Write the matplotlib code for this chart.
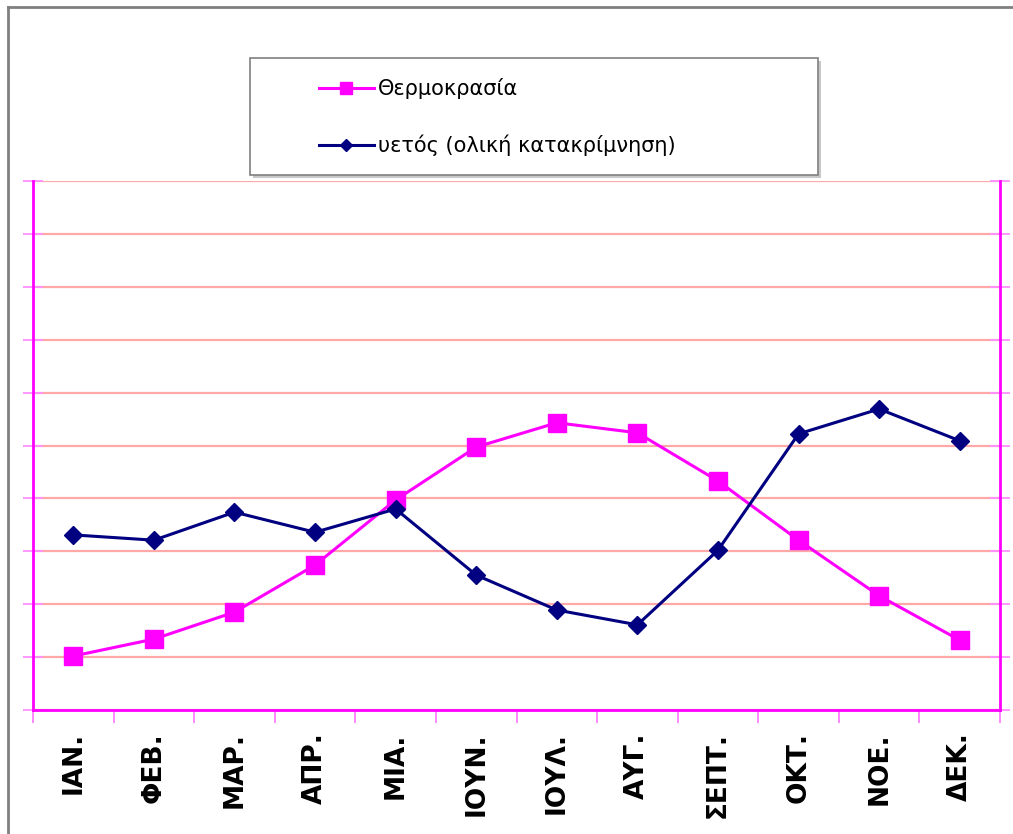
import matplotlib.pyplot as plt
from matplotlib.patches import Rectangle
from matplotlib.lines import Line2D

months = ['ΙΑΝ.', 'ΦΕΒ.', 'ΜΑΡ.', 'ΑΠΡ.', 'ΜΙΑ.', 'ΙΟΥΝ.',
          'ΙΟΥΛ.', 'ΑΥΓ.', 'ΣΕΠΤ.', 'ΟΚΤ.', 'ΝΟΕ.', 'ΔΕΚ.']
temp = [1.02, 1.34, 1.85, 2.74, 3.97, 4.97, 5.43, 5.24, 4.33, 3.21, 2.16, 1.32]
rain = [3.31, 3.21, 3.74, 3.36, 3.80, 2.55, 1.89, 1.61, 3.02, 5.22, 5.69, 5.09]
temp_label = 'Θερμοκρασία'
rain_label = 'υετός (ολική κατακρίμνηση)'

plt.rcParams['font.family'] = ['DejaVu Sans']

fig = plt.figure(figsize=(10.13, 8.34), dpi=100)
ax = fig.add_axes([33/1013, 124/834, 967/1013, 529/834])

x = list(range(len(months)))
ax.plot(x, temp, color='#ff00ff', lw=2.2, marker='s', ms=12.5,
        label=temp_label, zorder=3)
ax.plot(x, rain, color='#000080', lw=2.2, marker='D', ms=9,
        label=rain_label, zorder=4)

ax.set_xlim(-0.5, 11.5)
ax.set_ylim(0, 10)
ax.set_yticks(range(11))
ax.set_yticklabels([])
ax.grid(axis='y', color='#ffa8a8', lw=1.6, zorder=1)

ax.set_xticks(x)
ax.set_xticklabels(months, rotation=90, fontsize=19, fontweight='bold')
ax.set_xticks([i - 0.5 for i in range(13)], minor=True)
ax.tick_params(axis='x', which='major', length=0, pad=16)
ax.tick_params(axis='x', which='minor', length=9, width=1.3,
               color='#ff80ff', direction='out')
ax.tick_params(axis='y', which='major', length=14, width=1.3,
               color='#ff90ff', direction='inout', left=True, right=True)

for s in ['left', 'right', 'bottom']:
    ax.spines[s].set_color('#ff00ff')
    ax.spines[s].set_linewidth(2)
    ax.spines[s].set_zorder(5)
ax.spines['top'].set_visible(False)

# legend box with shadow
fig.patches.append(Rectangle((253/1013, (834-178)/834), 568/1013, 117/834,
                             transform=fig.transFigure, facecolor='#c8c8c8',
                             edgecolor='none', zorder=1))
fig.patches.append(Rectangle((250/1013, (834-175)/834), 568/1013, 117/834,
                             transform=fig.transFigure, facecolor='white',
                             edgecolor='#808080', lw=1.2, zorder=2))
leg = fig.legend(loc='center left', bbox_to_anchor=(300/1013, (834-117)/834),
                 frameon=False, fontsize=15, handlelength=2.65,
                 handletextpad=0.2, labelspacing=1.7, markerscale=0.7)
leg.set_zorder(3)

# outer chart frame
fig.add_artist(Line2D([8/1013, 8/1013], [0, 1 - 7/834], color='#808080', lw=2))
fig.add_artist(Line2D([8/1013, 1], [1 - 7/834, 1 - 7/834], color='#808080', lw=2))

fig.savefig('out.png')
